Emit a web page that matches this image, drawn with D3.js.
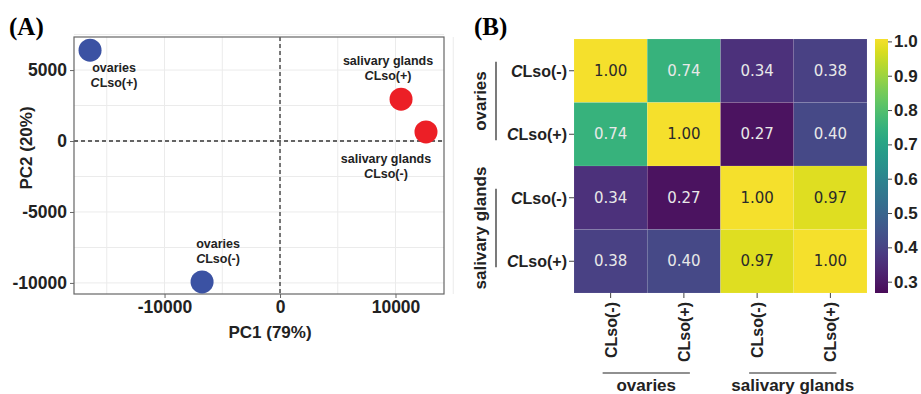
<!DOCTYPE html>
<html lang="en">
  <head>
    <meta charset="UTF-8" />
    <title>PCA and correlation heatmap</title>
    <style>
      body { margin: 0; background: #fff; }
      svg text { font-family: "Liberation Sans", Arial, sans-serif; }
      .panelTag { font-family: "Liberation Serif", "Times New Roman", serif !important; font-weight: bold; }
      .grid line { stroke: #ebebeb; stroke-width: 1px; }
      .zeroLine { stroke: #333; stroke-width: 1.3px; stroke-dasharray: 4,3; fill: none; }
      .tick text { font-weight: bold; fill: #222; }
      .lab { font-weight: bold; fill: #222; }
      .cellText { font-family: "DejaVu Sans", sans-serif !important; font-size: 15px; }
    </style>
  </head>
  <body>
    <script src="https://cdn.jsdelivr.net/npm/d3@7"></script>
    <script>
    // PCA scores
    var pcaGroup = ["ovaries", "salivary glands", "salivary glands", "ovaries"];
    var pcaStatus = ["(+)", "(+)", "(-)", "(-)"];
    var pc1 = [-16450, 10480, 12640, -6750];
    var pc2 = [6400, 2950, 640, -9930];
    var xTicks = [-10000, 0, 10000];
    var yTicks = [5000, 0, -5000, -10000];

    // correlation matrix
    var hmRows = ["CLso(-)", "CLso(+)", "CLso(-)", "CLso(+)"];
    var hmCols = ["CLso(-)", "CLso(+)", "CLso(-)", "CLso(+)"];
    var hmGroups = ["ovaries", "salivary glands"];
    var corr = [
      [1.00, 0.74, 0.34, 0.38],
      [0.74, 1.00, 0.27, 0.40],
      [0.34, 0.27, 1.00, 0.97],
      [0.38, 0.40, 0.97, 1.00]
    ];
    var cbTicks = [0.3, 0.4, 0.5, 0.6, 0.7, 0.8, 0.9, 1.0];

    var svg = d3.select("body").append("svg")
       .attr("width", 921)
       .attr("height", 394);

//panel A
    var x = d3.scaleLinear().domain([-17840, 14200]).range([74, 444]);
    var y = d3.scaleLinear().domain([7330, -10780]).range([37, 294]);

    var grid = svg.append("g").attr("class", "grid");
    grid.selectAll(".gx")
       .data(d3.range(-15000, 15001, 5000))
       .enter().append("line")
       .attr("x1", function(d) { return x(d); })
       .attr("x2", function(d) { return x(d); })
       .attr("y1", 37).attr("y2", 294);
    grid.selectAll(".gy")
       .data(d3.range(-10000, 7501, 2500))
       .enter().append("line")
       .attr("y1", function(d) { return y(d); })
       .attr("y2", function(d) { return y(d); })
       .attr("x1", 74).attr("x2", 444);

    svg.append("line").attr("class", "zeroLine")
       .attr("x1", x(0)).attr("x2", x(0)).attr("y1", 37).attr("y2", 294);
    svg.append("line").attr("class", "zeroLine")
       .attr("x1", 74).attr("x2", 444).attr("y1", y(0)).attr("y2", y(0));

    svg.append("rect")
       .attr("x", 74).attr("y", 37).attr("width", 370).attr("height", 257)
       .attr("fill", "none").attr("stroke", "#666").attr("stroke-width", 1.2);

    var plain = function(d) { return String(d); };
    var xAxis = svg.append("g")
       .attr("transform", "translate(0,294)")
       .call(d3.axisBottom(x).tickValues(xTicks).tickSize(4).tickPadding(3).tickFormat(plain));
    var yAxis = svg.append("g")
       .attr("transform", "translate(74,0)")
       .call(d3.axisLeft(y).tickValues(yTicks).tickSize(4).tickPadding(3).tickFormat(plain));
    [xAxis, yAxis].forEach(function(a) {
      a.select(".domain").remove();
      a.selectAll(".tick line").attr("stroke", "#666");
      a.selectAll(".tick text").style("font-size", "17.5px");
    });

    svg.append("text").attr("class", "lab")
       .text("PC1 (79%)")
       .attr("text-anchor", "middle")
       .attr("x", 270).attr("y", 338)
       .style("font-size", "17px");
    svg.append("text").attr("class", "lab")
       .text("PC2 (20%)")
       .attr("text-anchor", "middle")
       .attr("transform", "translate(32,148)rotate(-90)")
       .style("font-size", "17px");

    var pts = pc1.map(function(v, i) {
      return { x: v, y: pc2[i], group: pcaGroup[i], status: pcaStatus[i] };
    });
    // label offsets from each point (px)
    var offs = [[24, 22], [-13, -34.5], [-40, 31.5], [16, -33.5]];

    svg.selectAll(".pt")
       .data(pts)
       .enter().append("circle")
       .attr("cx", function(d) { return x(d.x); })
       .attr("cy", function(d) { return y(d.y); })
       .attr("r", 11.5)
       .attr("fill", function(d) { return d.group == "ovaries" ? "#3b52a3" : "#ec1f26"; });

    pts.forEach(function(d, i) {
      var t = svg.append("text").attr("class", "lab")
         .attr("text-anchor", "middle")
         .style("font-size", "12.5px");
      var cx = x(d.x) + offs[i][0], cy = y(d.y) + offs[i][1];
      t.append("tspan").attr("x", cx).attr("y", cy).text(d.group);
      var t2 = t.append("tspan").attr("x", cx).attr("y", cy + 15);
      t2.append("tspan").style("font-style", "italic").text("C");
      t2.append("tspan").text("Lso" + d.status);
    });

    svg.append("text").attr("class", "panelTag")
       .text("(A)").attr("x", 9).attr("y", 35).style("font-size", "25px");

//panel B
    var hx = d3.scaleBand().domain(d3.range(4)).range([574, 867]);
    var hy = d3.scaleBand().domain(d3.range(4)).range([39, 293]);
    var vir = d3.scaleSequential(d3.interpolateViridis).domain([0.25, 1.0]);
    // the printed figure is slightly washed out
    var color = function(v) { return d3.interpolateRgb(vir(v), "#8a8a8a")(0.07); };

    var cells = [];
    corr.forEach(function(row, i) {
      row.forEach(function(v, j) { cells.push({ r: i, c: j, v: v }); });
    });

    svg.selectAll(".cell")
       .data(cells)
       .enter().append("rect")
       .attr("x", function(d) { return hx(d.c); })
       .attr("y", function(d) { return hy(d.r); })
       .attr("width", hx.bandwidth())
       .attr("height", hy.bandwidth())
       .attr("fill", function(d) { return color(d.v); })
       .attr("stroke", "rgba(255,255,255,0.15)")
       .attr("stroke-width", 0.6);

    svg.selectAll(".cellText")
       .data(cells)
       .enter().append("text")
       .attr("class", "cellText")
       .attr("x", function(d) { return hx(d.c) + hx.bandwidth() / 2; })
       .attr("y", function(d) { return hy(d.r) + hy.bandwidth() / 2 + 5; })
       .attr("text-anchor", "middle")
       .attr("fill", function(d) { return d.v > 0.85 ? "#2a2a2a" : "#e8e8e8"; })
       .text(function(d) { return d.v.toFixed(2); });

    // row labels
    var rowAxis = svg.append("g")
       .attr("transform", "translate(574,0)")
       .call(d3.axisLeft(hy).tickSize(5).tickPadding(2).tickFormat(""));
    rowAxis.select(".domain").remove();
    rowAxis.selectAll(".tick line").attr("stroke", "#444");
    hmRows.forEach(function(lbl, i) {
      var t = svg.append("text").attr("class", "lab")
         .attr("text-anchor", "end")
         .attr("x", 567)
         .attr("y", hy(i) + hy.bandwidth() / 2 + 6)
         .style("font-size", "16px");
      t.append("tspan").style("font-style", "italic").text(lbl[0]);
      t.append("tspan").text(lbl.slice(1));
    });

    // column labels
    var colAxis = svg.append("g")
       .attr("transform", "translate(0,293)")
       .call(d3.axisBottom(hx).tickSize(5).tickFormat(""));
    colAxis.select(".domain").remove();
    colAxis.selectAll(".tick line").attr("stroke", "#444");
    hmCols.forEach(function(lbl, j) {
      var cx = hx(j) + hx.bandwidth() / 2;
      svg.append("text").attr("class", "lab")
         .text(lbl)
         .attr("text-anchor", "end")
         .attr("transform", "translate(" + (cx + 6) + ",302)rotate(-90)")
         .style("font-size", "16px");
    });

    // group brackets
    hmGroups.forEach(function(g, k) {
      var a = 2 * k, b = 2 * k + 1;
      var y1 = hy(a) + hy.bandwidth() / 2 - 9, y2 = hy(b) + hy.bandwidth() / 2 + 6;
      svg.append("line")
         .attr("x1", 496).attr("x2", 496).attr("y1", y1).attr("y2", y2)
         .attr("stroke", "#222").attr("stroke-width", 1.2);
      svg.append("text").attr("class", "lab")
         .text(g)
         .attr("text-anchor", "middle")
         .attr("transform", "translate(486," + ((y1 + y2) / 2) + ")rotate(-90)")
         .style("font-size", "17px");

      var x1 = hx(a) + hx.bandwidth() / 2 - 8, x2 = hx(b) + hx.bandwidth() / 2 + 6;
      svg.append("line")
         .attr("x1", x1).attr("x2", x2).attr("y1", 373).attr("y2", 373)
         .attr("stroke", "#222").attr("stroke-width", 1.2);
      svg.append("text").attr("class", "lab")
         .text(g)
         .attr("text-anchor", "middle")
         .attr("x", (x1 + x2) / 2).attr("y", 391)
         .style("font-size", "17px");
    });

    // colorbar
    var cb = d3.scaleLinear().domain([0.267, 1.007]).range([293, 39]);
    var grad = svg.append("defs").append("linearGradient")
       .attr("id", "vir")
       .attr("x1", 0).attr("x2", 0).attr("y1", 1).attr("y2", 0);
    d3.range(0, 1.0001, 0.05).forEach(function(t) {
      grad.append("stop")
         .attr("offset", t)
         .attr("stop-color", d3.interpolateRgb(d3.interpolateViridis(t), "#8a8a8a")(0.07));
    });
    svg.append("rect")
       .attr("x", 875).attr("y", 39).attr("width", 13).attr("height", 254)
       .attr("fill", "url(#vir)");
    var cbAxis = svg.append("g")
       .attr("transform", "translate(888,0)")
       .call(d3.axisRight(cb).tickValues(cbTicks).tickSize(4).tickPadding(2)
             .tickFormat(d3.format(".1f")));
    cbAxis.select(".domain").remove();
    cbAxis.selectAll(".tick line").attr("stroke", "#444");
    cbAxis.selectAll(".tick text").style("font-size", "17px");

    svg.append("text").attr("class", "panelTag")
       .text("(B)").attr("x", 474).attr("y", 35).style("font-size", "25px");
    </script>
  </body>
</html>
